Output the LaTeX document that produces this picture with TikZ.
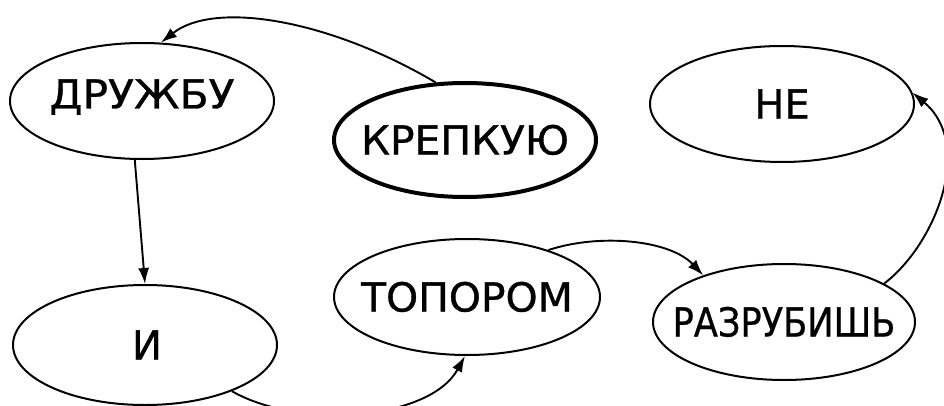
\documentclass[tikz,border=0pt]{standalone}
\usepackage{fontspec}
\setmainfont{DejaVu Sans}
\newfontfamily\wordfont[FakeBold=0.8]{DejaVu Sans}
\usetikzlibrary{shapes.geometric,arrows.meta}
\begin{document}
\begin{tikzpicture}[x=1pt,y=1pt,
  word/.style={ellipse,draw=black,line width=2pt,inner sep=0pt,
    minimum width=264pt,minimum height=116pt},
  wtext/.style={font=\wordfont\fontsize{40}{44}\selectfont,inner sep=0pt,text height=29pt,text depth=0pt},
  bold/.style={line width=4pt},
  conn/.style={line width=1.9pt,-{Latex[length=16pt,width=11pt]}}]
\clip (0,0) rectangle (944,405);
\fill[white] (0,0) rectangle (944,405);
\node[word,label={[wtext,yshift=7pt]center:\scalebox{1.06}[1]{ДРУЖБУ}}] (druzh) at (142,304) {};
\node[word,bold,minimum width=262pt,minimum height=114pt,label={[wtext]center:\scalebox{1.02}[1]{КРЕПКУЮ}}] (krep) at (465,265) {};
\node[word,label={[wtext]center:НЕ}] (ne) at (782,301) {};
\node[word,minimum height=120pt,label={[wtext,xshift=2pt]center:И}] (i) at (145,60) {};
\node[word,minimum width=266pt,label={[wtext]center:\scalebox{1.02}[1]{ТОПОРОМ}}] (topor) at (467,108) {};
\node[word,minimum width=262pt,label={[wtext]center:\scalebox{0.88}[1]{РАЗРУБИШЬ}}] (razr) at (784,83) {};
\draw[conn] (krep.117) .. controls (330,385) and (215,405) .. (druzh.72);
\draw[conn] (druzh.-97) -- (i.north);
\draw[conn] (i.-28) .. controls (300,-25) and (430,-15) .. (topor.-92);
\draw[conn] (topor.30) .. controls (600,172) and (670,165) .. (razr.150);
\draw[conn] (razr.21) .. controls (935,160) and (975,260) .. (ne.5);
\end{tikzpicture}
\end{document}
